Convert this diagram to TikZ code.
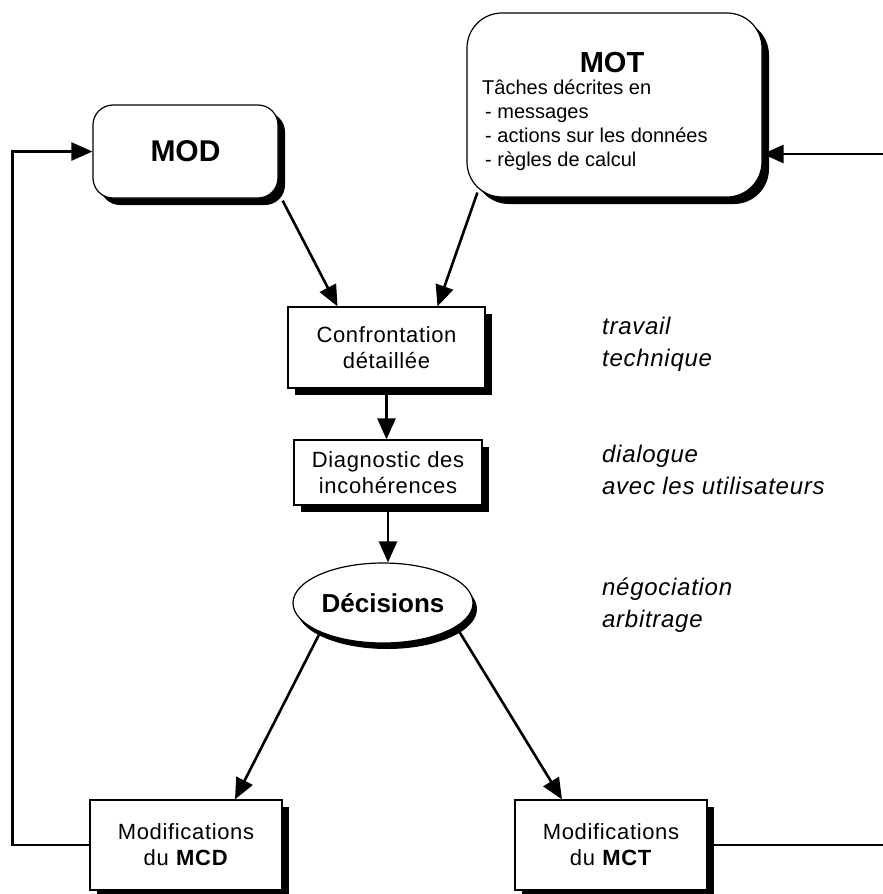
\documentclass[tikz,border=0pt]{standalone}
\usepackage{fontspec}
\setmainfont{Liberation Sans}
\usetikzlibrary{shapes.geometric,arrows.meta,shadows,calc}
\begin{document}
\begin{tikzpicture}[x=1pt,y=-1pt,
  boxshadow/.style={drop shadow={shadow xshift=7pt,shadow yshift=-7pt,opacity=1,fill=black}},
  frame/.style={draw,line width=1.2pt,fill=white,inner sep=0pt},
  box/.style={frame,boxshadow,align=center,font=\fontsize{22}{26}\selectfont\addfontfeature{LetterSpace=3}},
  model/.style={frame,boxshadow},
  link/.style={line width=2.6pt,-{Triangle[length=21pt,width=18pt]}},
  wire/.style={line width=2.6pt},
  note/.style={anchor=west,align=left,inner sep=0pt,
               font=\fontsize{24}{32}\selectfont\itshape\addfontfeature{LetterSpace=3}}]

\useasboundingbox (0,0) rectangle (883,894);

% models
\node[model,rounded corners=20pt,minimum width=185pt,minimum height=93pt,
      font=\fontsize{30}{36}\selectfont\bfseries] (mod) at (185.5,151.5) {MOD};
\node[model,rounded corners=35pt,minimum width=295pt,minimum height=184pt] (mot) at (614.5,105) {};
\node[anchor=base,inner sep=0pt,font=\fontsize{29}{34}\selectfont\bfseries] (motT) at (612,72) {MOT};
\node[anchor=west,align=left,inner sep=0pt,font=\fontsize{20}{24}\selectfont] (motL) at (482,125.4)
  {Tâches décrites en\\ \hspace*{3pt}- messages\\ \hspace*{3pt}- actions sur les données\\ \hspace*{3pt}- règles de calcul};

% process steps
\node[box,minimum width=197pt,minimum height=81pt] (conf) at (386.5,347.5) {Confrontation\\détaillée};
\node[box,minimum width=188pt,minimum height=65pt] (diag) at (388,472.5) {Diagnostic des\\incohérences};
\node[frame,ellipse,minimum width=180pt,minimum height=80pt,
      drop shadow={shadow xshift=4pt,shadow yshift=-6pt,opacity=1,fill=black},
      font=\fontsize{26}{30}\selectfont\bfseries] (dec) at (383,603) {Décisions};
\node[box,minimum width=192pt,minimum height=90pt] (mcd) at (186,845) {Modifications\\du \textbf{MCD}};
\node[box,minimum width=192pt,minimum height=90pt] (mct) at (611,845) {Modifications\\du \textbf{MCT}};

% side comments
\node[note] (n1) at (602,344.5) {travail\\technique};
\node[note] (n2) at (602,470) {dialogue\\avec les utilisateurs};
\node[note] (n3) at (602,605.5) {négociation\\arbitrage};

% loose ends at the right margin
\coordinate (rightIn) at (883,154);
\coordinate (rightOut) at (883,845);

% connectors
\draw[link] ($(mod.south east)+(4,2)$) -- ($(conf.north)+(-49,0)$);
\draw[link] ($(mot.south west)+(11,-5)$) -- ($(conf.north)+(51,0)$);
\draw[link] (conf.south) -- (conf.south |- diag.north);
\draw[link] (diag.south) -- (diag.south |- dec.north);
\draw[link] (dec.205) -- ($(mcd.north)+(49,0)$);
\draw[link] (dec.-18) -- ($(mct.north)+(-49,0)$);
\draw[link] (mcd.west) -- ++(-77,0) |- (mod.west);
\draw[wire] (mct.east) -- (rightOut);
\draw[link] (rightIn) -- (rightIn -| mot.east);
\end{tikzpicture}
\end{document}
